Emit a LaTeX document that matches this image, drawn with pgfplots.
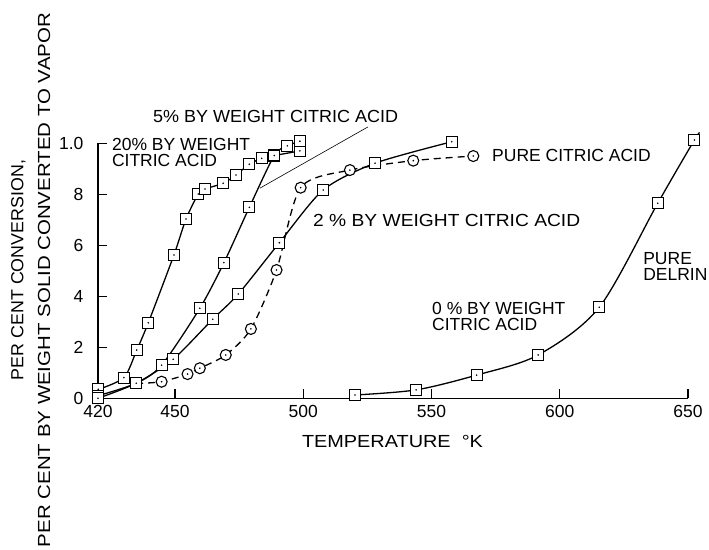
\documentclass[border=0pt]{standalone}
\usepackage{fontspec}
\setmainfont{Liberation Sans}
\usepackage{graphicx}
\usepackage{pgfplots}
\pgfplotsset{compat=1.18}
\newcommand{\lf}{\fontsize{17.5}{16.5}\selectfont}
\pgfdeclareplotmark{sqd}{%
  \pgfsetfillcolor{white}%
  \pgfpathrectangle{\pgfqpoint{-\pgfplotmarksize}{-\pgfplotmarksize}}{\pgfqpoint{2\pgfplotmarksize}{2\pgfplotmarksize}}%
  \pgfusepathqfillstroke
  \pgfsetfillcolor{black}%
  \pgfpathcircle{\pgfpointorigin}{0.9pt}%
  \pgfusepathqfill
}
\pgfdeclareplotmark{cid}{%
  \pgfsetfillcolor{white}%
  \pgfpathcircle{\pgfpointorigin}{\pgfplotmarksize}%
  \pgfusepathqfillstroke
  \pgfsetfillcolor{black}%
  \pgfpathcircle{\pgfpointorigin}{0.9pt}%
  \pgfusepathqfill
}
\begin{document}
\begin{tikzpicture}
\path[use as bounding box] (-98pt,-150.7pt) rectangle (611pt,398.3pt);
\begin{axis}[
  at={(0,0)}, anchor=south west,
  scale only axis, width=590pt, height=255pt,
  xmin=420, xmax=650, ymin=0, ymax=1,
  axis lines*=left,
  axis line style={line width=1.1pt},
  every tick/.style={line width=1.1pt, black},
  tick align=inside, major tick length=9pt,
  xtick={420,450,500,550,600,650},
  ytick={0,0.2,0.4,0.6,0.8,1.0},
  yticklabels={0,2,4,6,8,1.0},
  xticklabels={420,450,500,550,600,650},
  /pgf/number format/assume math mode=true,
  tick label style={font=\lf},
  xticklabel style={yshift=-3pt},
  yticklabel style={xshift=-11pt},
  clip=false,
  every axis plot/.append style={line width=1.3pt, black},
  mark options={solid, line width=1.1pt},
]
% 20% by weight citric acid
\addplot[smooth, tension=0.45, mark=sqd, mark size=5.5pt] coordinates {
 (420.1,0.035)(430.1,0.081)(435.1,0.189)(439.6,0.296)(449.6,0.562)(454.3,0.703)
 (459.1,0.801)(461.7,0.821)(468.8,0.843)(473.8,0.876)(479.0,0.918)(483.8,0.941)
 (488.7,0.952)(498.7,0.97)};
% 5% by weight citric acid
\addplot[smooth, tension=0.45, mark=sqd, mark size=5.5pt] coordinates {
 (420,0.01)(434.9,0.059)(444.8,0.13)(459.7,0.353)(469.1,0.532)(479.0,0.749)
 (488.7,0.952)(493.8,0.99)(498.7,1.008)};
% 2% by weight citric acid
\addplot[smooth, tension=0.45, mark=sqd, mark size=5.5pt] coordinates {
 (420,0.0)(434.9,0.059)(449.3,0.153)(464.7,0.31)(474.7,0.409)(490.7,0.61)
 (507.8,0.817)(528.0,0.922)(557.9,1.006)};
% pure citric acid
\addplot[smooth, tension=0.45, dash pattern=on 7pt off 5pt, mark=cid, mark size=5.5pt,
  mark indices={2,3,4,5,6,7,8,9,10,11}] coordinates {
 (434.9,0.058)(444.8,0.065)(454.9,0.095)(459.7,0.118)(469.8,0.17)(479.6,0.272)
 (489.6,0.503)(499.0,0.826)(518.2,0.895)(542.9,0.932)(566.3,0.95)};
% pure Delrin (0% citric acid)
\addplot[smooth, tension=0.5, mark=sqd, mark size=5.5pt, mark indices={1,2,3,4,5,6,7}] coordinates {
 (520.2,0.013)(544.0,0.033)(567.6,0.091)(591.6,0.17)(615.4,0.357)(638.2,0.765)(652.5,1.013)(654.5,1.04)};

\draw[line width=0.6pt] (axis cs:525.2,1.064) -- (axis cs:483.1,0.824);
\node[font=\lf, anchor=north west, align=left, inner sep=0pt] at (axis cs:425.4,1.021) {20\% BY WEIGHT\\CITRIC ACID};
\node[font=\lf, anchor=base west, inner sep=0pt] at (axis cs:441.4,1.080) {\resizebox{245pt}{\height}{5\% BY WEIGHT CITRIC ACID}};
\node[font=\lf, anchor=base west, inner sep=0pt] at (axis cs:573.6,0.927) {PURE CITRIC ACID};
\node[font=\lf, anchor=base west, inner sep=0pt] at (axis cs:503.8,0.672) {\resizebox{267pt}{\height}{2 \% BY WEIGHT CITRIC ACID}};
\node[font=\lf, anchor=north west, align=left, inner sep=0pt] at (axis cs:550.2,0.378) {0 \% BY WEIGHT\\CITRIC ACID};
\node[font=\lf, anchor=north west, align=left, inner sep=0pt] at (axis cs:632.5,0.574) {PURE\\DELRIN};
\end{axis}
\node[font=\lf, rotate=90, inner sep=0pt] at (-79.5pt,128.3pt) {\resizebox{220pt}{\height}{PER CENT CONVERSION,}};
\node[font=\lf, rotate=90, inner sep=0pt] at (-54pt,118.3pt) {\resizebox{534pt}{\height}{PER CENT BY WEIGHT SOLID CONVERTED TO VAPOR}};
\node[font=\lf, inner sep=0pt] at (294.5pt,-43.2pt) {\resizebox{181pt}{\height}{TEMPERATURE \ °K}};
\end{tikzpicture}
\end{document}
